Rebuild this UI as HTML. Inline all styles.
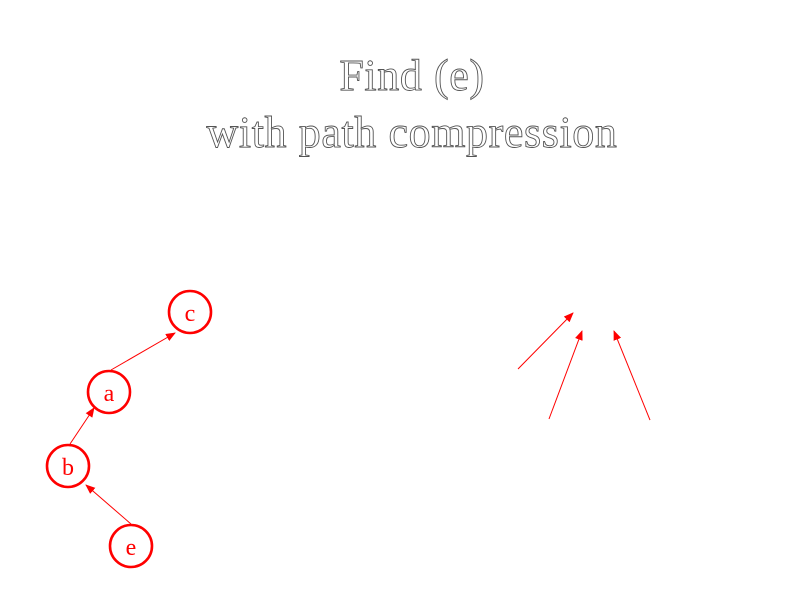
<!DOCTYPE html>
<html><head><meta charset="utf-8"><style>
html,body{margin:0;padding:0;background:#fff;}
svg{display:block;}
.t{font-family:"Liberation Serif",serif;font-size:44px;letter-spacing:0.6px;fill:#fff;stroke:#555;stroke-width:0.9;}
.n{fill:none;stroke:#f00;stroke-width:2.6;}
.l{font-family:"Liberation Serif",serif;font-size:24px;fill:#f00;}
.a{stroke:#f00;stroke-width:1;}
</style></head><body>
<svg width="800" height="600">
<defs><marker id="ah" markerWidth="10" markerHeight="8" refX="9" refY="4" orient="auto" markerUnits="userSpaceOnUse"><path d="M0,0 L10,4 L0,8 z" fill="#f00"/></marker></defs>
<text class="t" x="412" y="90" text-anchor="middle">Find (e)</text>
<text class="t" x="412" y="147" text-anchor="middle">with path compression</text>
<g><circle class="n" cx="190" cy="312" r="21"/><text class="l" x="190" y="321" text-anchor="middle">c</text></g>
<g><circle class="n" cx="109" cy="392" r="21"/><text class="l" x="109" y="401" text-anchor="middle">a</text></g>
<g><circle class="n" cx="68" cy="466" r="21"/><text class="l" x="68" y="475" text-anchor="middle">b</text></g>
<g><circle class="n" cx="131" cy="546" r="21"/><text class="l" x="131" y="555" text-anchor="middle">e</text></g>
<line class="a" x1="131" y1="524" x2="86" y2="485" marker-end="url(#ah)"/>
<line class="a" x1="70" y1="444" x2="94" y2="408" marker-end="url(#ah)"/>
<line class="a" x1="111" y1="370" x2="175" y2="333" marker-end="url(#ah)"/>
<line class="a" x1="518" y1="369" x2="573" y2="313" marker-end="url(#ah)"/>
<line class="a" x1="549" y1="419" x2="582" y2="331" marker-end="url(#ah)"/>
<line class="a" x1="650" y1="420" x2="614" y2="331" marker-end="url(#ah)"/>
</svg>
</body></html>
